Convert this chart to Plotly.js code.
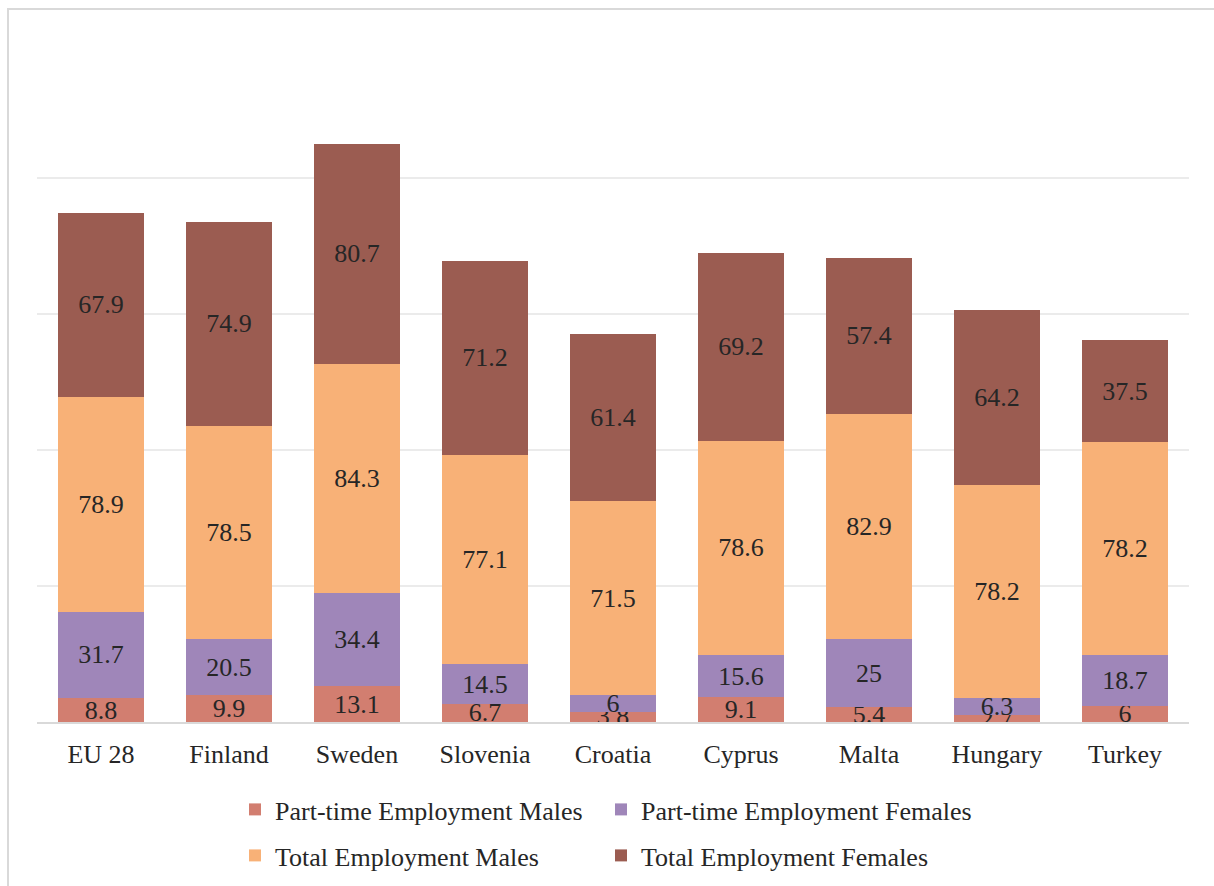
<!DOCTYPE html>
<html>
<head>
<meta charset="utf-8">
<script src="https://cdn.plot.ly/plotly-3.0.1.min.js"></script>
<style>html,body{margin:0;padding:0;background:#fff;}#chart{width:1214px;height:886px;}</style>
</head>
<body>
<div id="chart"></div>
<script>
const categories = ["EU 28", "Finland", "Sweden", "Slovenia", "Croatia", "Cyprus", "Malta", "Hungary", "Turkey"];
const partTimeMales = [8.8, 9.9, 13.1, 6.7, 3.8, 9.1, 5.4, 2.7, 6];
const partTimeFemales = [31.7, 20.5, 34.4, 14.5, 6, 15.6, 25, 6.3, 18.7];
const totalMales = [78.9, 78.5, 84.3, 77.1, 71.5, 78.6, 82.9, 78.2, 78.2];
const totalFemales = [67.9, 74.9, 80.7, 71.2, 61.4, 69.2, 57.4, 64.2, 37.5];
const seriesNames = ["Part-time Employment Males", "Part-time Employment Females", "Total Employment Males", "Total Employment Females"];
const seriesColors = ["#D27E70", "#9F86B9", "#F8B177", "#9B5C51"];

const FONT = '"Liberation Serif", "Times New Roman", serif';
const W = 1214, H = 886;
const L = 37, R = 25, T = 42, B = 164;
const pw = W - L - R, ph = H - T - B;
const px2x = p => (p - L) / pw;
const py2y = p => (H - B - p) / ph;

const allSeries = [partTimeMales, partTimeFemales, totalMales, totalFemales];
const legendOf = ['legend', 'legend', 'legend2', 'legend2'];
const entryW = [321, 380, 321, 380];
const traces = allSeries.map((vals, i) => ({
  type: 'bar',
  name: seriesNames[i],
  legend: legendOf[i],
  legendwidth: entryW[i],
  x: categories,
  y: vals,
  text: vals.map(v => String(v)),
  textposition: 'inside',
  insidetextanchor: 'middle',
  constraintext: 'none',
  textangle: 0,
  insidetextfont: {family: FONT, size: 26, color: '#262626'},
  marker: {color: seriesColors[i], line: {width: 0}},
  hoverinfo: 'x+y+name'
}));

const legendBase = (topPx) => ({
  orientation: 'h',
  x: px2x(235), xanchor: 'left',
  y: py2y(topPx), yanchor: 'top',
  entrywidth: 321, entrywidthmode: 'pixels',
  font: {family: FONT, size: 26, color: '#262626'},
  traceorder: 'normal',
  bgcolor: 'rgba(0,0,0,0)'
});

const layout = {
  width: W, height: H,
  margin: {l: L, r: R, t: T, b: B, pad: 0, autoexpand: false},
  paper_bgcolor: '#ffffff',
  plot_bgcolor: '#ffffff',
  barmode: 'stack',
  bargap: 0.335,
  font: {family: FONT, size: 26, color: '#262626'},
  xaxis: {
    type: 'category',
    range: [-0.5, 8.5],
    showline: true, linecolor: '#d9d9d9', linewidth: 2,
    showgrid: false, ticks: '',
    ticklabelstandoff: 8,
    automargin: false,
    tickfont: {family: FONT, size: 26, color: '#262626'}
  },
  yaxis: {
    range: [0, 250],
    dtick: 50,
    showticklabels: false,
    showgrid: true, gridcolor: '#ebebeb', gridwidth: 2,
    zeroline: false, showline: false, ticks: ''
  },
  showlegend: true,
  legend: legendBase(786),
  legend2: legendBase(832),
  shapes: [{
    type: 'rect', xref: 'paper', yref: 'paper', layer: 'below',
    x0: px2x(8), x1: px2x(1240), y0: py2y(9), y1: py2y(920),
    line: {color: '#d9d9d9', width: 2}, fillcolor: 'rgba(0,0,0,0)'
  }]
};

Plotly.newPlot('chart', traces, layout, {displayModeBar: false, staticPlot: true});
</script>
</body>
</html>
